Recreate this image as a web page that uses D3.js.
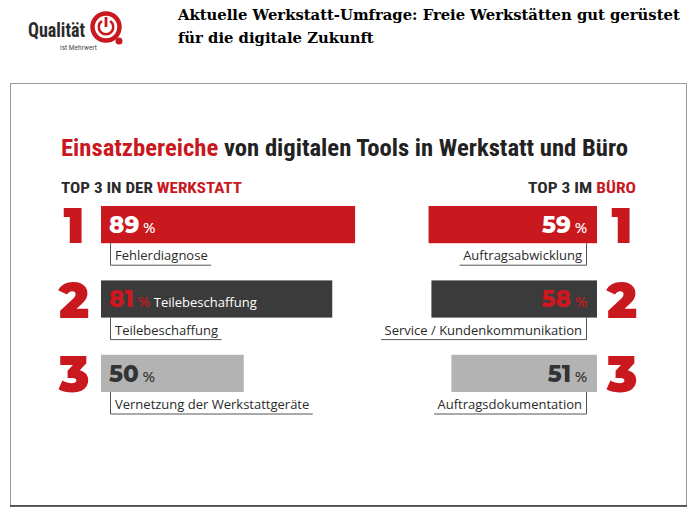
<!DOCTYPE html>
<html>
<head>
<meta charset="utf-8">
<script src="https://cdn.jsdelivr.net/npm/d3@7"></script>
<style>
  body { margin: 0; background: #fff; }
  svg { display: block; }
</style>
</head>
<body>
<div id="chart"></div>
<script>
// data
var ranks = [1, 2, 3];
var werkstattLabels = ["Fehlerdiagnose", "Teilebeschaffung", "Vernetzung der Werkstattgeräte"];
var werkstattValues = [89, 81, 50];
var werkstattInner = ["", "Teilebeschaffung", ""];
var bueroLabels = ["Auftragsabwicklung", "Service / Kundenkommunikation", "Auftragsdokumentation"];
var bueroValues = [59, 58, 51];
var headline = ["Aktuelle Werkstatt-Umfrage: Freie Werkstätten gut gerüstet", "für die digitale Zukunft"];

var width = 697, height = 516;
var red = "#c9181e", dark = "#3b3b3b", grey = "#b3b3b3";
var barColor = d3.scaleOrdinal().domain(ranks).range([red, dark, grey]);
var pctColor = d3.scaleOrdinal().domain(ranks).range(["#fff", "#d0161e", "#333"]);

var svg = d3.select("#chart").append("svg")
    .attr("width", width)
    .attr("height", height);

// logo
var logo = svg.append("g");
logo.append("text")
    .attr("x", 28).attr("y", 37)
    .attr("font-family", "'Liberation Sans Narrow', 'Roboto Condensed', Roboto, sans-serif")
    .attr("font-weight", "bold")
    .attr("font-size", 20)
    .attr("textLength", 57)
    .attr("lengthAdjust", "spacingAndGlyphs")
    .attr("fill", "#2a2a2a")
    .text("Qualität");
logo.append("text")
    .attr("x", 60).attr("y", 50)
    .attr("font-family", "Roboto, sans-serif")
    .attr("font-size", 6.5)
    .attr("textLength", 37)
    .attr("fill", "#444")
    .text("ist Mehrwert");
logo.append("circle").attr("cx", 106).attr("cy", 27).attr("r", 13.5)
    .attr("fill", "none").attr("stroke", red).attr("stroke-width", 4.5);
logo.append("path")
    .attr("d", d3.arc().innerRadius(6).outerRadius(8.5).startAngle(0.6).endAngle(2 * Math.PI - 0.6)())
    .attr("transform", "translate(106,27)")
    .attr("fill", red);
logo.append("line").attr("x1", 106).attr("x2", 106).attr("y1", 17).attr("y2", 27)
    .attr("stroke", red).attr("stroke-width", 2.8);
logo.append("circle").attr("cx", 119).attr("cy", 41).attr("r", 3.5).attr("fill", red);

// headline
svg.append("g").selectAll("text")
    .data(headline)
    .enter().append("text")
    .attr("x", 178)
    .attr("y", function(d, i) { return 20 + i * 23; })
    .attr("font-family", "'DejaVu Serif', serif")
    .attr("font-weight", "bold")
    .attr("font-size", 14.8)
    .attr("fill", "#000")
    .text(function(d) { return d; });

// frame
svg.append("rect")
    .attr("x", 10.5).attr("y", 83.5)
    .attr("width", 676).attr("height", 422)
    .attr("fill", "#fff")
    .attr("stroke", "#9a9a9a");
svg.append("line")
    .attr("x1", 10).attr("x2", 687).attr("y1", 506).attr("y2", 506)
    .attr("stroke", "#333").attr("stroke-width", 1.5);

var condensed = "'Liberation Sans Narrow', 'Roboto Condensed', 'DejaVu Sans Condensed', sans-serif";

// chart title
var title = svg.append("text")
    .attr("x", 61).attr("y", 156)
    .attr("font-family", condensed)
    .attr("font-weight", "bold")
    .attr("font-size", 24)
    .attr("textLength", 567)
    .attr("lengthAdjust", "spacingAndGlyphs");
title.append("tspan").attr("fill", red).text("Einsatzbereiche");
title.append("tspan").attr("fill", "#222").text(" von digitalen Tools in Werkstatt und Büro");

// sub heads
var sub1 = svg.append("text")
    .attr("x", 61).attr("y", 193)
    .attr("font-family", condensed).attr("font-weight", "bold").attr("font-size", 14)
    .attr("textLength", 181).attr("lengthAdjust", "spacingAndGlyphs");
sub1.append("tspan").attr("fill", "#2a2a2a").text("TOP 3 IN DER ");
sub1.append("tspan").attr("fill", red).text("WERKSTATT");

var sub2 = svg.append("text")
    .attr("x", 636).attr("y", 193)
    .attr("text-anchor", "end")
    .attr("font-family", condensed).attr("font-weight", "bold").attr("font-size", 14)
    .attr("textLength", 108).attr("lengthAdjust", "spacingAndGlyphs");
sub2.append("tspan").attr("fill", "#2a2a2a").text("TOP 3 IM ");
sub2.append("tspan").attr("fill", red).text("BÜRO");

// scales
var y = d3.scaleBand()
    .domain(ranks)
    .range([206, 392])
    .paddingInner(0.5)
    .paddingOuter(0);

var xL = d3.scaleLinear().domain([0, 100]).range([101, 386.5]);
var xR = d3.scaleLinear().domain([0, 100]).range([597, 311.5]);

var numFont = "Montserrat, 'Open Sans', Roboto, sans-serif";
var labelFont = "'Open Sans', Roboto, sans-serif";

function side(values, labels, inner, x, isLeft) {
  var rows = svg.append("g").selectAll("g")
      .data(ranks)
      .enter().append("g");

  rows.append("rect")
      .attr("x", function(d, i) { return isLeft ? x(0) : x(values[i]); })
      .attr("y", function(d) { return y(d); })
      .attr("width", function(d, i) { return Math.abs(x(values[i]) - x(0)); })
      .attr("height", y.bandwidth())
      .attr("fill", function(d) { return barColor(d); });

  // big rank digit
  rows.append("text")
      .attr("x", isLeft ? 74 : 622)
      .attr("y", function(d) { return y(d) + y.bandwidth(); })
      .attr("text-anchor", "middle")
      .attr("font-family", numFont)
      .attr("font-weight", 900)
      .attr("font-size", 50)
      .attr("fill", red)
      .text(function(d) { return d; });

  // percent value
  var pct = rows.append("text")
      .attr("x", isLeft ? x(0) + 8 : x(0) - 10)
      .attr("y", function(d) { return y(d) + 27; })
      .attr("text-anchor", isLeft ? "start" : "end")
      .attr("font-family", numFont)
      .attr("font-weight", 800)
      .attr("fill", function(d) { return pctColor(d); });
  pct.append("tspan")
      .attr("font-size", 23)
      .text(function(d, i) { return values[i]; });
  pct.append("tspan")
      .attr("font-size", 14)
      .attr("font-weight", 600)
      .attr("dx", 4)
      .text("%");
  pct.append("tspan")
      .attr("font-size", 13)
      .attr("font-weight", 400)
      .attr("font-family", labelFont)
      .attr("fill", "#fff")
      .attr("dx", 4)
      .text(function(d, i) { return inner[i]; });

  // label under bar
  var lab = rows.append("text")
      .attr("x", isLeft ? x(0) + 14 : x(0) - 15)
      .attr("y", function(d) { return y(d) + y.bandwidth() + 17; })
      .attr("text-anchor", isLeft ? "start" : "end")
      .attr("font-family", labelFont)
      .attr("font-size", 13)
      .attr("fill", "#2a2a2a")
      .text(function(d, i) { return labels[i]; });

  lab.each(function(d) {
    var w = this.getComputedTextLength();
    var g = d3.select(this.parentNode);
    var vx = isLeft ? x(0) + 9.5 : x(0) - 10.5;
    var top = y(d) + y.bandwidth();
    var bottom = top + 22;
    var hx = isLeft ? vx + 5 + w + 3 : vx - 5 - w - 3;
    g.append("path")
        .attr("d", "M" + vx + "," + top + "V" + bottom + "H" + hx)
        .attr("fill", "none")
        .attr("stroke", "#555")
        .attr("stroke-width", 1);
  });
}

side(werkstattValues, werkstattLabels, werkstattInner, xL, true);
side(bueroValues, bueroLabels, ["", "", ""], xR, false);
</script>
</body>
</html>
